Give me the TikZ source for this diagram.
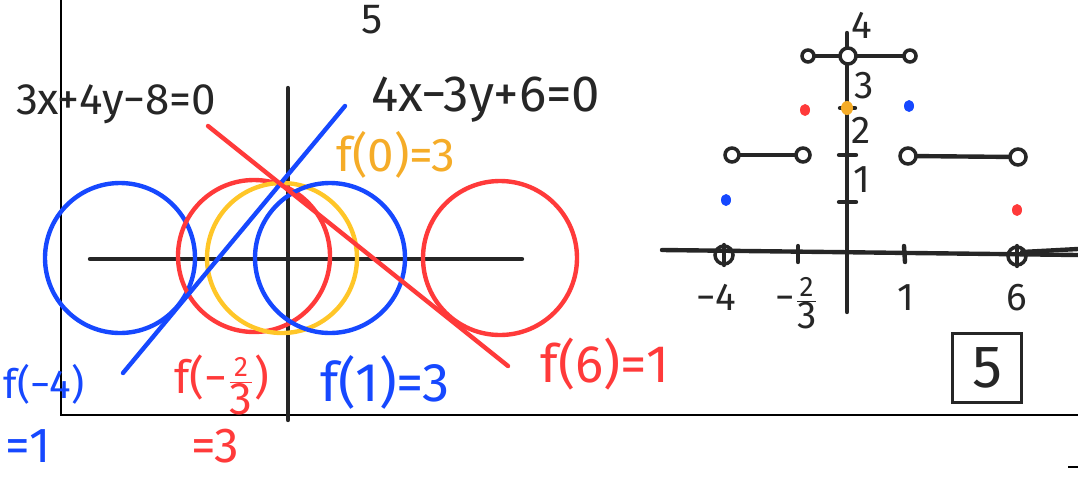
\documentclass[tikz,border=0pt]{standalone}
\usepackage{fontspec}
\setmainfont{Fira Sans}
\usetikzlibrary{positioning}

\definecolor{penblack}{RGB}{38,38,38}
\definecolor{penblue}{RGB}{22,72,255}
\definecolor{penred}{RGB}{255,58,58}
\definecolor{penyellow}{RGB}{255,198,40}
\definecolor{penorange}{RGB}{245,172,40}

\newcommand{\penfrac}[2]{$\frac{\mbox{\fontsize{16}{16}\selectfont #1}}{\mbox{#2}}$}

\begin{document}
\begin{tikzpicture}[
                x=0.02cm, y=-0.02cm,
                ink/.style={line width=2.5pt, line cap=round},
                axis/.style={ink, draw=penblack},
                note/.style={inner sep=0pt, font=\fontsize{28}{30}\selectfont},
                small/.style={inner sep=0pt, font=\fontsize{22}{24}\selectfont, text=penblack},
                hole/.style={draw=penblack, line width=2pt, fill=white},
                dot/.style={fill=#1, draw=none}
            ]

            \useasboundingbox (0,0) rectangle (1078,477);

            \draw[line width=0.8pt] (61,0) -- (61,415) -- (1078,415);
            \draw[line width=0.8pt] (1068,467) -- (1078,467);
            \node[note, text=penblack, font=\fontsize{24}{26}\selectfont] (five) at (372,20) {5};


            \draw[axis] (90,259) -- (522,259);
            \draw[axis] (288,88) -- (288,420);

            \draw[ink, penblue] (120,258) circle [radius=75];
            \draw[ink, penred] (254,256) circle [radius=76];
            \draw[ink, penyellow] (282,258) circle [radius=75];
            \draw[ink, penblue] (330,258) circle [radius=75];
            \draw[ink, penred] (500,258) circle [radius=77];

            \draw[ink, penblue] (123,373) -- (345,106);
            \draw[ink, penred] (208,126) -- (508,366);

            \node[note, text=penblack, font=\fontsize{25}{28}\selectfont] (lineA) at (116,104) {3x+4y−8=0};
            \node[note, text=penblack, font=\fontsize{29}{30}\selectfont] (lineB) at (486,100) {4x−3y+6=0};
            \node[note, text=penorange, font=\fontsize{27}{30}\selectfont] (fzero) at (396,155) {f(0)=3};
            \node[note, text=penblue, font=\fontsize{23}{26}\selectfont] (fmfour) at (44,384) {f(−4)};
            \node[note, text=penblue] (fmfourval) at (28,446) {=1};
            \node[note, text=penred, font=\fontsize{26}{28}\selectfont] (fmfrac) at (222,385) {f(−\penfrac{2}{3})};
            \node[note, text=penred] (fmfracval) at (215,446) {=3};
            \node[note, text=penblue, font=\fontsize{31}{32}\selectfont] (fone) at (385,382) {f(1)=3};
            \node[note, text=penred, font=\fontsize{30}{32}\selectfont] (fsix) at (605,364) {f(6)=1};


            \draw[axis] (662,250) -- (1078,255);
            \draw[axis] (1022,252) -- (1078,249);
            \draw[axis] (847,33) -- (847,312);

            \draw[axis] (840,108) -- (855,108);
            \draw[axis] (839,155) -- (856,155);
            \draw[axis] (839,202) -- (856,202);
            \draw[axis] (798,246) -- (798,262);
            \draw[axis] (904,246) -- (905,262);

            \draw[hole, fill=none] (724,255) circle [radius=9];
            \draw[axis] (724,245) -- (724,265);
            \draw[hole, fill=none] (1017,256) circle [radius=9];
            \draw[axis] (1017,246) -- (1017,266);

            \draw[axis] (808,56) -- (910,56);
            \draw[hole] (808,56) circle [radius=6];
            \draw[hole] (848,56) circle [radius=8];
            \draw[hole] (910,56) circle [radius=6];

            \draw[axis] (732,155) -- (803,155);
            \draw[hole] (732,155) circle [radius=7];
            \draw[hole] (803,155) circle [radius=7];

            \draw[axis] (908,156) -- (1018,157);
            \draw[hole] (908,156) circle [radius=8];
            \draw[hole] (1018,157) circle [radius=8];

            \fill[dot=penred] (805,110) ellipse [x radius=5, y radius=6];
            \fill[dot=penorange] (847,108) ellipse [x radius=6, y radius=7];
            \fill[dot=penblue] (909,106) ellipse [x radius=5, y radius=6];
            \fill[dot=penblue] (726,200) ellipse [x radius=5, y radius=6];
            \fill[dot=penred] (1017,210) ellipse [x radius=5, y radius=6];

            \node[small] (yfour) at (862,25) {4};
            \node[small] (ythree) at (864,86) {3};
            \node[small] (ytwo) at (861,130) {2};
            \node[small] (yone) at (862,180) {1};
            \node[small] (xmfour) at (716,297) {−4};
            \node[small] (xmfrac) at (797,303) {−\penfrac{2}{3}};
            \node[small] (xone) at (906,298) {1};
            \node[small] (xsix) at (1017,298) {6};

            \node[draw=penblack, line width=1.8pt, minimum size=1.38cm, inner sep=0pt,
                font=\fontsize{34}{36}\selectfont, text=penblack] (answer) at (987,368) {5};


        \end{tikzpicture}
\end{document}
